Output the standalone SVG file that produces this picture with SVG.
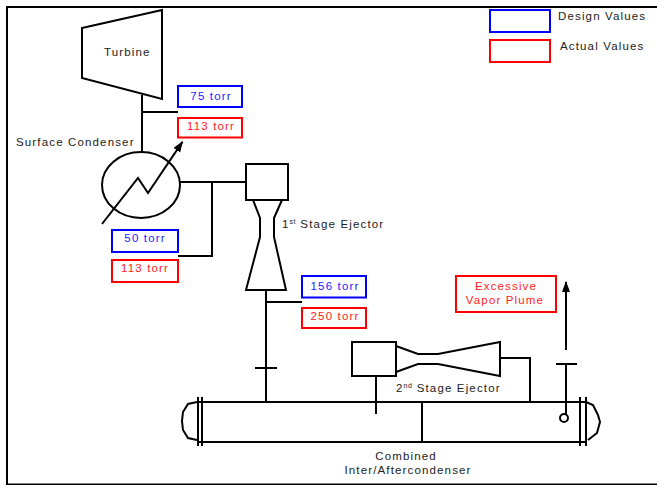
<svg xmlns="http://www.w3.org/2000/svg" width="657" height="485" viewBox="0 0 657 485">
<style>
.l{fill:none;stroke:#000;stroke-width:2}
.b{fill:none;stroke:#00f;stroke-width:2}
.r{fill:none;stroke:#f00;stroke-width:2}
text{font-family:"Liberation Sans",Arial,sans-serif;font-size:11.5px;letter-spacing:1.15px;fill:#222}
.tb{fill:#22f;text-anchor:middle}
.tr{fill:#f22;text-anchor:middle}
.m{text-anchor:middle}
.s{font-size:7px;letter-spacing:.5px}
</style>
<defs><marker id="ah" markerUnits="userSpaceOnUse" markerWidth="12" markerHeight="10" refX="10" refY="4" orient="auto"><path d="M0 0L11 4L0 8z" fill="#000"/></marker></defs>
<rect x="7" y="7" width="660" height="477.5" fill="none" stroke="#000" stroke-width="2"/>
<g id="connectors">
<path class="l" d="M142 95V152M142 112H178"/>
<path class="l" d="M180 182H246M212 182V256H178"/>
<path class="l" d="M266 290V402M266 302H302M255 368H277"/>
<path class="l" d="M376 376V414M422 402V442"/>
<path class="l" d="M500 358H530V402"/>
<path class="l" d="M556 364H577M566 364V414"/>
<path class="l" d="M566 350V282" marker-end="url(#ah)"/>
</g>
<g id="turbine"><path class="l" d="M82 28L162 10V99L82 78Z"/><text x="104" y="56">Turbine</text></g>
<g id="surface-condenser"><ellipse class="l" cx="141" cy="185" rx="39" ry="33"/>
<path class="l" d="M102 224L138 178L148 193L182.4 141.9" marker-end="url(#ah)"/>
<text x="16" y="146">Surface Condenser</text></g>
<g id="first-ejector"><rect class="l" x="246" y="164" width="42" height="36"/>
<path class="l" d="M253 200L260 218V237L246 290H286L274 237V218L282 200"/>
<text x="282" y="228">1<tspan class="s" dy="-4">st</tspan><tspan dy="4"> Stage Ejector</tspan></text></g>
<g id="second-ejector"><rect class="l" x="352" y="342" width="44" height="34"/>
<path class="l" d="M396 346L418 354H438L500 342V376L438 364H418L396 372"/>
<text x="396" y="392">2<tspan class="s" dy="-4">nd</tspan><tspan dy="4"> Stage Ejector</tspan></text></g>
<g id="combined-condenser">
<path class="l" d="M198 402H586M198 442H586M198 397V446M202 397V446M580 397V446M586 397V446"/>
<path class="l" d="M197 402L188 404L183 412L182 421L183 430L188 438L197 440"/>
<path class="l" d="M586 402L593 405L598 415L600 422L597 433L588 440"/>
<circle class="l" cx="564" cy="418" r="4"/>
<text class="m" x="406" y="460">Combined</text><text class="m" x="408" y="474">Inter/Aftercondenser</text></g>
<g id="p75"><rect class="b" x="178" y="86" width="64" height="21"/><text class="tb" x="211" y="100">75 torr</text></g>
<g id="p113a"><rect class="r" x="178" y="118" width="64" height="19.500"/><text class="tr" x="211" y="130">113 torr</text></g>
<g id="p50"><rect class="b" x="112" y="230" width="66" height="22"/><text class="tb" x="145" y="242">50 torr</text></g>
<g id="p113b"><rect class="r" x="112" y="260" width="66" height="22"/><text class="tr" x="145" y="272">113 torr</text></g>
<g id="p156"><rect class="b" x="302" y="276" width="64" height="21.500"/><text class="tb" x="335" y="290">156 torr</text></g>
<g id="p250"><rect class="r" x="302" y="308" width="64" height="20"/><text class="tr" x="335" y="320">250 torr</text></g>
<g id="plume"><rect class="r" x="456" y="276" width="100" height="36"/><text class="tr" x="506" y="290">Excessive</text><text class="tr" x="505" y="304">Vapor Plume</text></g>
<g id="legend-design"><rect class="b" x="490" y="10" width="60" height="22"/><text x="558" y="20">Design Values</text></g>
<g id="legend-actual"><rect class="r" x="490" y="40" width="60" height="22"/><text x="560" y="50">Actual Values</text></g>
</svg>
